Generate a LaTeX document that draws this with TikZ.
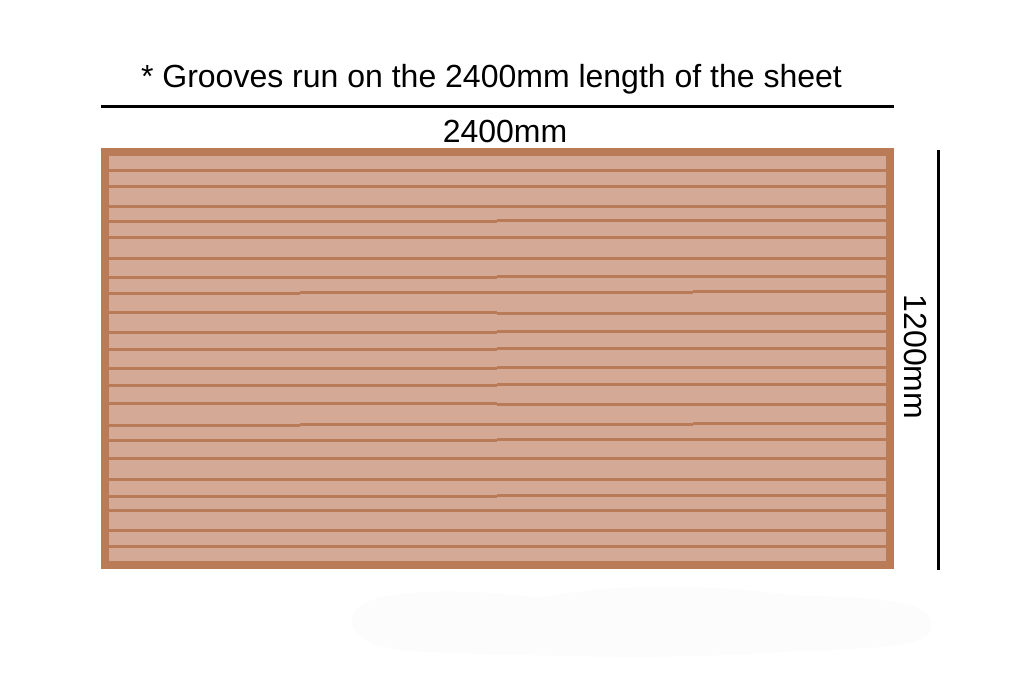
\documentclass[tikz,border=0pt]{standalone}
\usepackage{fontspec}
\setmainfont{Liberation Sans}
\definecolor{woodedge}{RGB}{185,123,88}
\definecolor{woodfill}{RGB}{212,169,149}
\definecolor{blob}{RGB}{252,252,252}
\begin{document}
\begin{tikzpicture}[x=1pt,y=-1pt,
  groove/.style={draw=woodedge,line width=3pt,line cap=butt},
  dimline/.style={draw=black,line width=3pt},
  lbl/.style={font=\fontsize{32}{36}\selectfont,inner sep=0pt}]
\useasboundingbox (0,0) rectangle (1028,699);
% faint shadow blob
\fill[blob] (352,620) .. controls (352,585) and (470,588) .. (540,598)
  .. controls (600,585) and (700,582) .. (790,595)
  .. controls (880,598) and (932,600) .. (932,625)
  .. controls (932,648) and (880,648) .. (780,652)
  .. controls (680,660) and (560,656) .. (480,654)
  .. controls (400,652) and (352,650) .. (352,620) -- cycle;
% sheet
\fill[woodedge] (101,148) rectangle (894,569);
\fill[woodfill] (109,156) rectangle (886,561);
\foreach \a/\b/\c/\d in {
 170.5/170.5/170.5/170.5,
 186.5/186.5/186.5/186.5,
 206.5/206.5/206.5/206.5,
 221.5/221.5/220.5/220.5,
 237.5/237.5/237.5/237.5,
 258.5/258.5/258.5/258.5,
 277.5/277.5/276.5/276.5,
 293.5/292.3/292.3/291.3,
 312.5/312.5/313.5/313.5,
 332.5/332.5/331.5/331.5,
 349.5/349.5/348.5/348.5,
 368.5/368.5/367.5/367.5,
 385.5/385.5/384.5/384.5,
 403.5/403.5/404.5/404.5,
 425.5/424.3/424.3/423.3,
 440.5/440.5/439.5/439.5,
 458.5/458.5/458.5/458.5,
 479.5/479.5/479.5/479.5,
 496.5/496.5/495.5/495.5,
 510.5/510.5/510.5/510.5,
 530.5/530.5/530.5/530.5,
 546.5/546.5/546.5/546.5}{
  \path[groove] (109,\a) -- (300,\a);
  \path[groove] (300,\b) -- (497,\b);
  \path[groove] (497,\c) -- (693,\c);
  \path[groove] (693,\d) -- (886,\d);
}
% dimension lines
\coordinate (hl) at (101,106.5);
\coordinate (hr) at (894,106.5);
\coordinate (vt) at (938.5,150);
\coordinate (vb) at (938.5,570);
\path[dimline] (hl) -- (hr);
\path[dimline] (vt) -- (vb);
% labels
\node[lbl,anchor=base] (title) at (491.5,87) {* Grooves run on the 2400mm length of the sheet};
\node[lbl,anchor=base] (wlen) at (505,142) {2400mm};
\node[lbl,anchor=base,rotate=-90] (hlen) at (904,357) {1200mm};
\end{tikzpicture}
\end{document}
